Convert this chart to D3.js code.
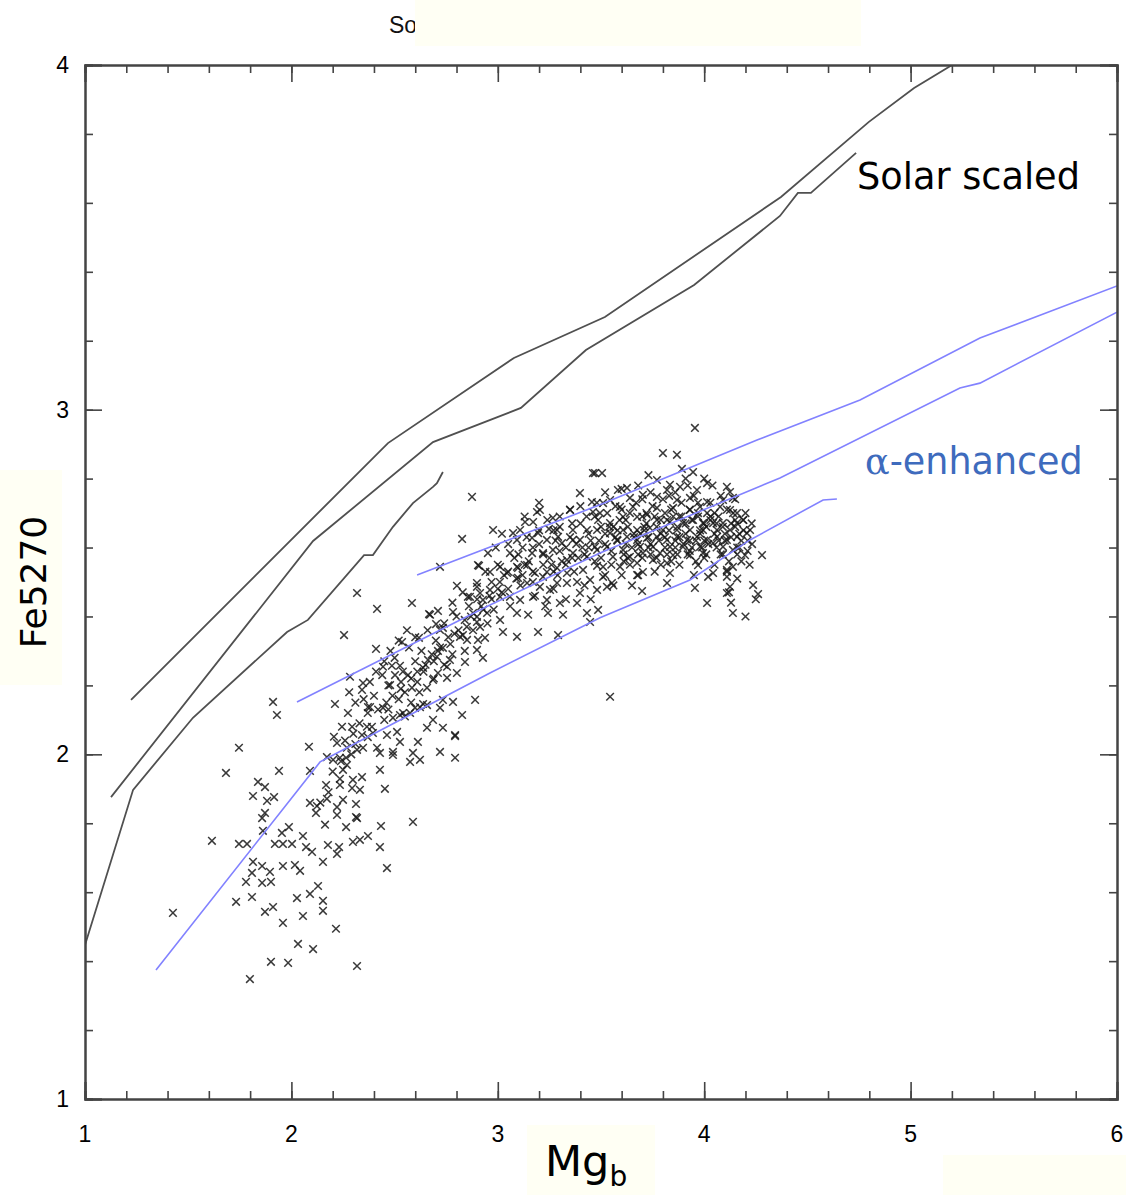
<!DOCTYPE html>
<html><head><meta charset="utf-8">
<script src="https://cdn.jsdelivr.net/npm/d3@7"></script>
<style>html,body{margin:0;padding:0;background:#fff;}svg{display:block;}</style>
</head><body>
<div id="chart"></div>
<script>
// ---- data (Mg_b, Fe5270) ----
const xTickLabels = ["1","2","3","4","5","6"];
const yTickLabels = ["1","2","3","4"];
const solarLine1 = [[1.223,2.158],[2.468,2.903],[3.078,3.150],[3.519,3.269],[4.372,3.617],[4.798,3.835],[5.017,3.933],[5.201,4.0]];
const solarLine2 = [[1.126,1.876],[2.105,2.619],[2.686,2.906],[3.112,3.005],[3.427,3.173],[3.951,3.362],[4.367,3.562],[4.454,3.629],[4.517,3.629],[4.736,3.745]];
const solarLine3 = [[1.0,1.447],[1.233,1.897],[1.523,2.106],[1.979,2.355],[2.080,2.390],[2.352,2.578],[2.395,2.578],[2.492,2.660],[2.589,2.729],[2.686,2.776],[2.705,2.787],[2.734,2.819]];
const alphaLine1 = [[2.609,2.520],[3.495,2.724],[4.256,2.912],[4.755,3.028],[5.336,3.208],[6.0,3.359]];
const alphaLine2 = [[2.027,2.152],[2.962,2.433],[3.495,2.584],[4.367,2.802],[5.239,3.063],[5.336,3.077],[6.0,3.283]];
const alphaLine3 = [[1.344,1.374],[2.139,1.978],[2.221,2.004],[2.962,2.236],[3.495,2.396],[3.931,2.506],[4.222,2.622],[4.576,2.738],[4.643,2.741]];
const galaxiesMgb = [
1.426,1.615,1.683,1.746,1.732,1.799,1.901,1.984,2.318,2.032,2.105,1.959,2.216,1.872,1.911,1.809,2.027,2.090,2.153,2.129,2.153,2.056,1.780,1.858,1.901,1.809,1.896,1.858,1.814,1.746,1.785,1.862,1.858,1.872,1.814,1.882,1.916,1.838,1.872,1.930,1.911,1.940,2.090,2.085,1.954,1.988,1.959,1.920,2.003,2.056,2.071,2.100,1.959,2.017,2.042,2.153,2.177,2.231,2.221,2.298,2.332,2.371,2.429,2.463,2.589,2.434,2.265,2.318,2.221,2.172,2.119,2.090,2.124,2.163,2.221,2.250,2.313,2.313,2.168,2.235,2.235,2.298,2.342,2.294,2.332,2.250,2.269,2.202,2.235,2.265,2.172,2.453,2.429,2.429,2.415,2.492,2.492,2.526,2.463,2.589,2.623,2.575,2.613,2.720,2.793,2.793,2.657,2.734,2.686,2.827,2.347,2.342,2.366,2.294,2.245,2.206,2.221,2.269,2.318,2.395,2.512,2.492,2.526,2.575,2.599,2.623,2.657,2.720,2.783,2.211,2.274,2.371,2.444,
2.318,2.415,2.584,2.802,2.720,2.904,2.255,2.410,2.536,2.618,2.667,2.710,2.783,2.701,2.734,2.865,2.899,2.928,2.899,2.914,2.284,2.347,2.342,2.444,2.487,2.526,2.502,2.478,2.531,2.565,2.584,2.657,2.638,2.662,2.705,2.734,2.768,2.754,2.802,2.710,2.754,2.686,2.841,2.851,2.831,2.899,2.928,2.904,2.938,2.890,2.793,2.734,2.638,2.541,2.381,
2.875,2.977,2.827,2.952,2.909,3.108,3.132,3.190,3.204,3.171,3.267,3.195,3.248,3.292,3.398,3.350,3.461,3.456,3.074,3.093,3.166,3.219,3.267,3.093,3.142,3.180,3.219,3.287,3.335,3.364,3.398,3.432,3.364,3.311,3.432,3.471,3.413,3.447,3.384,3.481,3.398,3.335,3.287,3.253,3.204,3.142,3.098,3.045,3.011,2.962,2.899,2.914,2.855,2.962,3.011,3.059,3.108,3.171,3.238,3.301,3.384,3.432,3.316,3.243,3.147,3.093,3.011,2.948,2.899,2.720,2.672,3.195,3.292,3.093,3.025,2.817,3.447,3.486,3.461,3.486,3.238,3.287,3.364,3.166,3.098,3.059,3.481,3.335,3.238,
3.800,3.868,3.505,3.892,3.946,3.771,4.014,4.110,3.582,3.626,3.834,3.883,3.965,4.125,3.820,3.703,3.771,3.640,3.544,3.868,3.931,4.014,4.091,4.139,4.077,4.125,4.159,4.188,4.159,4.222,4.207,4.159,4.110,4.062,4.014,3.965,3.917,3.868,3.820,3.771,3.723,3.675,3.626,3.578,3.529,3.481,3.607,3.689,3.752,3.834,3.897,3.980,4.043,4.091,4.139,3.558,3.640,3.703,3.786,3.849,3.931,3.994,3.510,3.592,3.675,3.752,3.820,3.510,3.529,3.675,3.703,3.834,3.820,3.553,3.699,3.970,4.043,4.019,4.110,4.110,4.125,4.110,4.139,3.955,4.014,4.139,4.198,4.232,4.280,4.237,4.261,3.544,3.495,3.607,3.675,3.723,3.771,3.834,3.897,3.946,3.994,4.043,4.091,4.125,4.062,3.994,3.931,3.868,3.800,3.737,3.675,3.607,3.544,3.481,3.771,3.849,3.931,4.014,3.655,3.592,3.510,3.980,3.544,3.955,3.471,
3.56,3.62,3.66,3.71,3.74,3.79,3.82,3.86,3.91,3.94,3.98,4.03,4.06,4.10,4.15,4.18,3.61,3.68,3.77,3.84,3.93,4.00,4.08,4.16,3.72,3.81,3.88,3.97,4.05,3.64,3.52,3.45,3.41,3.36,3.31,3.27,3.22,3.17,3.12,3.05,3.01,2.97,2.93,2.87,2.85,2.79,2.77,2.71,2.69,2.64,2.61,2.55,2.52,2.47,2.45,2.39,2.37,2.31,2.29
];
const galaxiesFe = [
1.540,1.749,1.946,2.019,1.572,1.348,1.398,1.395,1.386,1.450,1.435,1.511,1.494,1.543,1.557,1.586,1.583,1.595,1.575,1.618,1.546,1.531,1.630,1.627,1.630,1.656,1.659,1.676,1.688,1.740,1.740,1.778,1.815,1.830,1.879,1.865,1.876,1.920,1.905,2.114,2.152,1.952,1.952,2.022,1.772,1.789,1.740,1.740,1.740,1.763,1.731,1.717,1.676,1.679,1.662,1.688,1.737,1.731,1.711,1.746,1.752,1.763,1.731,1.670,1.804,1.792,1.789,1.815,1.824,1.871,1.830,1.859,1.850,1.796,1.847,1.868,1.856,1.818,1.911,1.929,1.911,1.926,1.934,1.902,1.897,1.955,1.969,1.984,1.990,1.990,1.992,1.900,1.955,2.004,2.019,1.998,2.007,2.036,2.056,2.004,1.984,1.978,2.036,2.007,1.990,2.053,2.077,2.077,2.100,2.114,2.019,2.056,2.080,2.080,2.080,2.051,2.033,2.019,2.013,2.062,2.065,2.106,2.114,2.120,2.135,2.137,2.143,2.135,2.152,2.146,2.120,2.137,2.135,
2.468,2.422,2.439,2.489,2.544,2.549,2.346,2.306,2.326,2.338,2.407,2.416,2.413,2.378,2.367,2.457,2.486,2.448,2.399,2.370,2.225,2.207,2.187,2.254,2.257,2.257,2.230,2.201,2.210,2.230,2.193,2.193,2.251,2.274,2.283,2.309,2.274,2.254,2.236,2.236,2.222,2.216,2.268,2.332,2.346,2.303,2.280,2.332,2.338,2.158,2.056,2.158,2.146,2.120,2.137,
2.747,2.651,2.625,2.584,2.547,2.651,2.674,2.703,2.709,2.674,2.686,2.642,2.654,2.631,2.758,2.709,2.816,2.732,2.642,2.622,2.584,2.584,2.593,2.544,2.549,2.526,2.515,2.541,2.564,2.584,2.622,2.651,2.651,2.613,2.573,2.602,2.535,2.506,2.500,2.477,2.468,2.497,2.497,2.477,2.486,2.497,2.512,2.526,2.544,2.529,2.497,2.468,2.457,2.477,2.457,2.457,2.448,2.457,2.448,2.439,2.439,2.410,2.405,2.410,2.405,2.410,2.390,2.410,2.384,2.361,2.405,2.355,2.346,2.341,2.355,2.341,2.384,2.419,2.703,2.680,2.622,2.651,2.622,2.628,2.541,2.584,2.547,2.526,2.529,
2.874,2.869,2.816,2.828,2.819,2.796,2.787,2.776,2.767,2.773,2.782,2.776,2.767,2.761,2.767,2.753,2.747,2.744,2.738,2.738,2.744,2.732,2.738,2.744,2.718,2.709,2.700,2.680,2.671,2.651,2.642,2.631,2.622,2.631,2.622,2.631,2.622,2.631,2.622,2.631,2.628,2.622,2.631,2.622,2.602,2.593,2.593,2.602,2.602,2.602,2.602,2.602,2.613,2.602,2.593,2.573,2.573,2.584,2.584,2.578,2.578,2.584,2.544,2.544,2.555,2.564,2.555,2.515,2.486,2.520,2.529,2.526,2.497,2.497,2.474,2.549,2.526,2.515,2.535,2.515,2.486,2.468,2.544,2.483,2.439,2.410,2.578,2.610,2.578,2.491,2.465,2.671,2.700,2.689,2.689,2.695,2.680,2.674,2.671,2.680,2.671,2.671,2.671,2.651,2.651,2.651,2.651,2.651,2.651,2.657,2.651,2.651,2.642,2.651,2.715,2.715,2.709,2.700,2.718,2.718,2.729,2.718,2.167,2.947,2.816,
2.66,2.61,2.64,2.66,2.61,2.64,2.68,2.60,2.64,2.60,2.64,2.68,2.60,2.64,2.66,2.62,2.56,2.58,2.57,2.56,2.59,2.57,2.58,2.60,2.70,2.70,2.69,2.70,2.70,2.70,2.64,2.62,2.60,2.57,2.56,2.53,2.55,2.50,2.52,2.48,2.50,2.45,2.42,2.40,2.37,2.35,2.32,2.30,2.27,2.24,2.21,2.18,2.16,2.13,2.10,2.08,2.05,2.03,2.00
];
// additional galaxies
const galaxiesBand = [
[3.47,2.69],[3.50,2.66],[3.53,2.70],[3.57,2.63],[3.59,2.68],[3.63,2.66],[3.65,2.60],[3.67,2.73],[3.69,2.64],[3.72,2.67],[3.74,2.58],[3.76,2.69],[3.78,2.62],[3.80,2.74],[3.83,2.65],[3.85,2.69],[3.87,2.58],[3.89,2.73],[3.91,2.67],[3.93,2.62],[3.95,2.75],[3.97,2.69],[3.99,2.60],[4.01,2.66],[4.03,2.73],[4.05,2.64],[4.07,2.69],[4.09,2.58],[4.11,2.71],[4.13,2.63],[4.15,2.68],[4.17,2.60],[4.19,2.65],[4.21,2.62],[4.08,2.75],[4.04,2.78],[3.92,2.78],[3.86,2.76],[3.74,2.76],[3.70,2.57],[3.61,2.58],[3.55,2.59],[3.64,2.55],[3.79,2.55],[3.96,2.56],[4.12,2.56],[4.00,2.62],[3.88,2.63],[3.81,2.60],[3.73,2.63],[3.58,2.65],[3.52,2.61],[3.44,2.64],[3.40,2.67],[3.38,2.61],[3.42,2.58],[3.47,2.56],[3.33,2.60],[3.28,2.62],[3.25,2.57],[3.20,2.61],[3.15,2.56],[3.12,2.60],[3.08,2.57],[3.03,2.52],[3.00,2.55],[2.97,2.50],[2.94,2.53],[2.90,2.45],[2.86,2.43],[2.83,2.47],[2.80,2.40],[2.78,2.44],[2.74,2.38],[2.70,2.33],[2.66,2.36],[2.63,2.30],[2.60,2.27],[2.57,2.31],[2.54,2.24],[2.50,2.28],[2.47,2.20],[2.44,2.23],[2.40,2.17],[2.37,2.12],[2.33,2.09],[2.30,2.06],[2.26,2.04],[2.24,1.98],[2.20,1.95],[2.18,1.89],[2.14,1.86],[3.18,2.46],[3.23,2.43],[3.27,2.48],[3.33,2.45],[3.37,2.53],[3.42,2.49],[3.45,2.45],[3.52,2.52],[3.56,2.49],[3.60,2.52],[3.65,2.49],[3.11,2.49],[3.06,2.43],[3.02,2.47],[2.98,2.42],[2.95,2.38],[2.88,2.36],[2.84,2.30],[2.78,2.29],[2.74,2.26],[2.69,2.22],[2.62,2.18],[2.58,2.15],[2.55,2.11],[2.60,2.34],[2.56,2.36],[2.52,2.33],[2.48,2.30],[2.45,2.27],[2.41,2.24],[2.38,2.21],[2.35,2.16],[2.31,2.15],[2.28,2.18],[3.24,2.68],[3.30,2.69],[3.35,2.71],[3.40,2.72],[3.30,2.66],[3.20,2.65],[3.14,2.63],[3.05,2.61],[2.99,2.60],[3.02,2.64],[3.13,2.69],[3.20,2.73],[3.52,2.76],[3.60,2.77],[3.68,2.78],[3.73,2.81],[3.91,2.80],[4.00,2.80],[4.15,2.74],[4.20,2.70],[4.23,2.67],[4.18,2.56],[4.22,2.55],[4.16,2.51],[4.12,2.47],[4.13,2.44],[4.25,2.45],[4.20,2.40]
];
// densest core of the cloud
const galaxiesCore = [
[3.58,2.62],[3.62,2.68],[3.66,2.63],[3.70,2.69],[3.73,2.60],[3.77,2.66],[3.81,2.63],[3.84,2.71],[3.87,2.66],[3.90,2.61],[3.94,2.68],[3.98,2.65],[4.02,2.61],[4.06,2.67],[4.10,2.62],[4.14,2.70],[4.17,2.64],[3.60,2.71],[3.68,2.61],[3.75,2.72],[3.82,2.58],[3.89,2.69],[3.96,2.62],[4.03,2.69],[4.09,2.66],[4.16,2.58],[3.63,2.57],[3.71,2.65],[3.79,2.68],[3.86,2.62],[3.93,2.71],[4.00,2.67],[4.07,2.62],[4.13,2.67],[3.54,2.66],[3.49,2.62],[3.44,2.60],[3.39,2.57],[3.35,2.63],[3.30,2.59],[3.26,2.55],[3.22,2.58],[3.17,2.53],[3.13,2.55],[3.09,2.51],[3.05,2.53],[3.00,2.48],[2.96,2.46],[2.92,2.43],[2.88,2.41],[2.84,2.39],[2.81,2.36],[2.76,2.34],[2.72,2.31],[2.68,2.29],[2.65,2.26],[2.61,2.24],[2.58,2.22],[2.53,2.19],[2.49,2.17],[2.46,2.15],[2.42,2.13],[3.88,2.55],[3.76,2.53],[3.68,2.52],[3.95,2.52],[4.05,2.55],[4.11,2.53],[4.19,2.68],[4.21,2.59],[3.97,2.73],[3.83,2.75],[3.70,2.74],[3.57,2.72],[3.48,2.73],[3.43,2.69],[3.36,2.67],[3.27,2.65],[3.17,2.60],[3.10,2.58],[3.33,2.55],[3.29,2.52],[3.55,2.55],[3.50,2.57],[3.92,2.58],[4.01,2.58]
];

// ---- layout ----
const W = 1126, H = 1195;
const x = d3.scaleLinear().domain([1, 6]).range([85, 1117]);
const y = d3.scaleLinear().domain([1, 4]).range([1099, 65]);
const svg = d3.select("#chart").append("svg").attr("width", W).attr("height", H);

// cream patches from original slide
const cream = "#fffff4";
svg.append("text").attr("x", 389).attr("y", 33).attr("font-family", "Liberation Sans, Arial, sans-serif")
  .attr("font-size", 23).attr("fill", "#111").text("Solar");
svg.append("rect").attr("x", 415).attr("y", 0).attr("width", 446).attr("height", 46).attr("fill", cream);
svg.append("rect").attr("x", 0).attr("y", 470).attr("width", 62).attr("height", 215).attr("fill", cream);
svg.append("rect").attr("x", 527).attr("y", 1125).attr("width", 128).attr("height", 70).attr("fill", cream);
svg.append("rect").attr("x", 943).attr("y", 1155).attr("width", 183).attr("height", 40).attr("fill", cream);

svg.append("defs").append("clipPath").attr("id", "plotclip").append("rect")
  .attr("x", 85).attr("y", 65).attr("width", 1032).attr("height", 1034);

const plot = svg.append("g").attr("clip-path", "url(#plotclip)");
const line = d3.line().x(d => x(d[0])).y(d => y(d[1]));

// scatter
const nGal = Math.min(galaxiesMgb.length, galaxiesFe.length);
const galaxies = galaxiesMgb.slice(0, nGal).map((m, i) => [m, galaxiesFe[i]]).concat(galaxiesBand, galaxiesCore);
plot.append("g").selectAll("path").data(galaxies).join("path")
  .attr("d", d => { const cx = x(d[0]), cy = y(d[1]), r = 3.8;
    return `M${cx-r},${cy-r}L${cx+r},${cy+r}M${cx-r},${cy+r}L${cx+r},${cy-r}`; })
  .attr("stroke", "#161616").attr("stroke-width", 1.5).attr("stroke-opacity", 0.85).attr("fill", "none");

// model lines
[solarLine1, solarLine2, solarLine3].forEach(s => plot.append("path").datum(s).attr("d", line)
  .attr("fill", "none").attr("stroke", "#505050").attr("stroke-width", 1.8));
[alphaLine1, alphaLine2, alphaLine3].forEach(s => plot.append("path").datum(s).attr("d", line)
  .attr("fill", "none").attr("stroke", "#8282ff").attr("stroke-width", 1.6));

// axes frame and ticks (inward, all four sides)
const axisColor = "#444";
const majorX = d3.range(1, 6.001, 1), minorX = d3.range(1, 6.001, 0.2);
const majorY = d3.range(1, 4.001, 1), minorY = d3.range(1, 4.001, 0.2);
const axBottomMin = d3.axisBottom(x).tickValues(minorX).tickSize(-8).tickFormat("");
const axBottomMaj = d3.axisBottom(x).tickValues(majorX).tickSize(-17).tickFormat("");
const axTopMin = d3.axisTop(x).tickValues(minorX).tickSize(-8).tickFormat("");
const axTopMaj = d3.axisTop(x).tickValues(majorX).tickSize(-17).tickFormat("");
const axLeftMin = d3.axisLeft(y).tickValues(minorY).tickSize(-8).tickFormat("");
const axLeftMaj = d3.axisLeft(y).tickValues(majorY).tickSize(-17).tickFormat("");
const axRightMin = d3.axisRight(y).tickValues(minorY).tickSize(-8).tickFormat("");
const axRightMaj = d3.axisRight(y).tickValues(majorY).tickSize(-17).tickFormat("");
function styleAxis(g) { g.selectAll("path,line").attr("stroke", axisColor).attr("stroke-width", 1.6); g.select(".domain").attr("stroke-width", 2); }
[[axBottomMin, 0, 1099], [axBottomMaj, 0, 1099], [axTopMin, 0, 65], [axTopMaj, 0, 65], [axLeftMin, 85, 0], [axLeftMaj, 85, 0], [axRightMin, 1117, 0], [axRightMaj, 1117, 0]]
  .forEach(([ax, tx, ty]) => svg.append("g").attr("transform", `translate(${tx},${ty})`).call(ax).call(styleAxis));

// tick labels
const tickFont = "Liberation Sans, Arial, Helvetica, sans-serif";
svg.append("g").selectAll("text").data(xTickLabels).join("text")
  .attr("x", d => x(+d)).attr("y", 1142).attr("text-anchor", "middle")
  .attr("font-family", tickFont).attr("font-size", 23).attr("fill", "#000").text(d => d);
svg.append("g").selectAll("text").data(yTickLabels).join("text")
  .attr("x", 69).attr("y", d => y(+d) + 8).attr("text-anchor", "end")
  .attr("font-family", tickFont).attr("font-size", 23).attr("fill", "#000").text(d => d);

// axis titles
const titleFont = "DejaVu Sans, Verdana, sans-serif";
svg.append("text").attr("transform", "translate(46,582) rotate(-90)").attr("text-anchor", "middle")
  .attr("font-family", titleFont).attr("font-size", 36).attr("fill", "#000").text("Fe5270");
const mg = svg.append("text").attr("x", 545).attr("y", 1176).attr("font-family", titleFont)
  .attr("font-size", 43).attr("fill", "#000");
mg.append("tspan").text("Mg");
mg.append("tspan").attr("font-size", 28).attr("dy", 10).text("b");

// annotations
svg.append("text").attr("x", 857).attr("y", 189).attr("font-family", titleFont)
  .attr("font-size", 36.7).attr("fill", "#000").text("Solar scaled");
const ae = svg.append("text").attr("x", 865).attr("y", 474).attr("font-family", titleFont)
  .attr("font-size", 36.5).attr("fill", "#3e6bbd");
ae.append("tspan").attr("font-family", "DejaVu Serif, Liberation Serif, serif").text("α");
ae.append("tspan").text("-enhanced");
</script>
</body></html>
